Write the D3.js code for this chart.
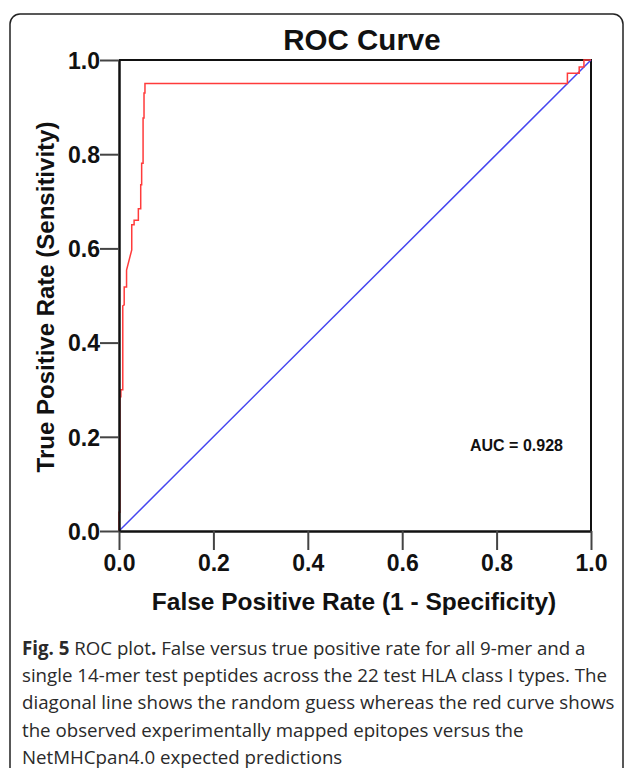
<!DOCTYPE html>
<html>
<head>
<meta charset="utf-8">
<script src="https://cdn.jsdelivr.net/npm/d3@7.9.0/dist/d3.min.js"></script>
<style>
    body { margin: 0; background: #fff; }
    svg { display: block; }
    .caption { font-family: 'Open Sans', sans-serif; font-size: 18.7px; fill: #2a2a2a; }
</style>
</head>
<body>
<svg id="chart" width="627" height="768"></svg>
<script>
// ROC curve (false positive rate, true positive rate)
const fpr = [0, 0, 0.002, 0.002, 0.004, 0.004, 0.008, 0.008, 0.011, 0.011, 0.016, 0.016,
    0.027, 0.027, 0.032, 0.032, 0.041, 0.041, 0.046, 0.046, 0.048, 0.048, 0.051, 0.051,
    0.053, 0.053, 0.055, 0.055, 0.95, 0.95, 0.975, 0.975, 0.985, 0.985, 1];
const tpr = [0, 0.04, 0.04, 0.285, 0.285, 0.30, 0.30, 0.478, 0.48, 0.518, 0.518, 0.554,
    0.597, 0.65, 0.65, 0.66, 0.66, 0.684, 0.684, 0.735, 0.735, 0.781, 0.781, 0.877,
    0.877, 0.93, 0.93, 0.95, 0.95, 0.972, 0.972, 0.985, 0.985, 1, 1];
const diagonal = [0, 1];
const tickValues = [0, 0.2, 0.4, 0.6, 0.8, 1.0];
const aucText = 'AUC = 0.928';

const captionLines = [
    [{ t: 'Fig. 5', b: true }, { t: ' ROC plot' }, { t: '.', b: true }, { t: ' False versus true positive rate for all 9-mer and a' }],
    [{ t: 'single 14-mer test peptides across the 22 test HLA class I types. The' }],
    [{ t: 'diagonal line shows the random guess whereas the red curve shows' }],
    [{ t: 'the observed experimentally mapped epitopes versus the' }],
    [{ t: 'NetMHCpan4.0 expected predictions' }],
];

const svg = d3.select('#chart');
const boldFont = "'Liberation Sans', Arial, sans-serif";

// outer frame (rounded, cut off at the bottom)
svg.append('rect')
    .attr('x', 10).attr('y', 14)
    .attr('width', 613).attr('height', 770)
    .attr('rx', 10)
    .attr('fill', 'none')
    .attr('stroke', '#222')
    .attr('stroke-width', 1.5);

const x = d3.scaleLinear().domain([0, 1]).range([119, 591]);
const y = d3.scaleLinear().domain([0, 1]).range([531, 60]);

// plot box top/right
svg.append('path')
    .attr('d', `M${x(0)},${y(1)}H${x(1)}V${y(0)}`)
    .attr('fill', 'none')
    .attr('stroke', '#111')
    .attr('stroke-width', 2);

// diagonal
const line = d3.line().x((d) => x(d[0])).y((d) => y(d[1]));
svg.append('path')
    .datum(diagonal.map((v) => [v, v]))
    .attr('d', line)
    .attr('fill', 'none')
    .attr('stroke', '#4646f0')
    .attr('stroke-width', 1.5);

// ROC curve
svg.append('path')
    .datum(fpr.map((f, i) => [f, tpr[i]]))
    .attr('d', line)
    .attr('fill', 'none')
    .attr('stroke', '#ff3b3b')
    .attr('stroke-width', 1.5);

// axes
const xAxis = svg.append('g')
    .attr('transform', `translate(0,${y(0)})`)
    .call(d3.axisBottom(x).tickValues(tickValues).tickFormat(d3.format('.1f')).tickSize(19).tickSizeOuter(0));
const yAxis = svg.append('g')
    .attr('transform', `translate(${x(0)},0)`)
    .call(d3.axisLeft(y).tickValues(tickValues).tickFormat(d3.format('.1f')).tickSize(19).tickSizeOuter(0));

[xAxis, yAxis].forEach((g) => {
    g.select('.domain').attr('stroke', '#111').attr('stroke-width', 2.5);
    g.selectAll('.tick line').attr('stroke', '#444').attr('stroke-width', 2);
    g.selectAll('.tick text')
        .attr('fill', '#111')
        .style('font-family', boldFont)
        .style('font-weight', 'bold')
        .style('font-size', '23px');
});
xAxis.selectAll('.tick text').attr('y', 24).attr('dy', '0.71em');
yAxis.selectAll('.tick text').attr('x', -19).attr('dy', '0.36em');

// titles
svg.append('text')
    .attr('x', 362).attr('y', 50)
    .attr('text-anchor', 'middle')
    .style('font-family', boldFont).style('font-weight', 'bold').style('font-size', '29.5px')
    .attr('fill', '#111')
    .text('ROC Curve');

svg.append('text')
    .attr('x', 354).attr('y', 610)
    .attr('text-anchor', 'middle')
    .style('font-family', boldFont).style('font-weight', 'bold').style('font-size', '24.5px')
    .attr('fill', '#111')
    .text('False Positive Rate (1 - Specificity)');

svg.append('text')
    .attr('transform', 'translate(54,297) rotate(-90)')
    .attr('text-anchor', 'middle')
    .style('font-family', boldFont).style('font-weight', 'bold').style('font-size', '24px')
    .attr('fill', '#111')
    .text('True Positive Rate (Sensitivity)');

svg.append('text')
    .attr('x', 470).attr('y', 451)
    .style('font-family', boldFont).style('font-weight', 'bold').style('font-size', '16px')
    .attr('fill', '#111')
    .text(aucText);

// caption
const cap = svg.append('g');
captionLines.forEach((parts, i) => {
    const t = cap.append('text')
        .attr('class', 'caption')
        .attr('x', 22)
        .attr('y', 655 + i * 27.2);
    parts.forEach((p) => {
        t.append('tspan')
            .style('font-weight', p.b ? 'bold' : 'normal')
            .text(p.t);
    });
});
</script>
</body>
</html>
